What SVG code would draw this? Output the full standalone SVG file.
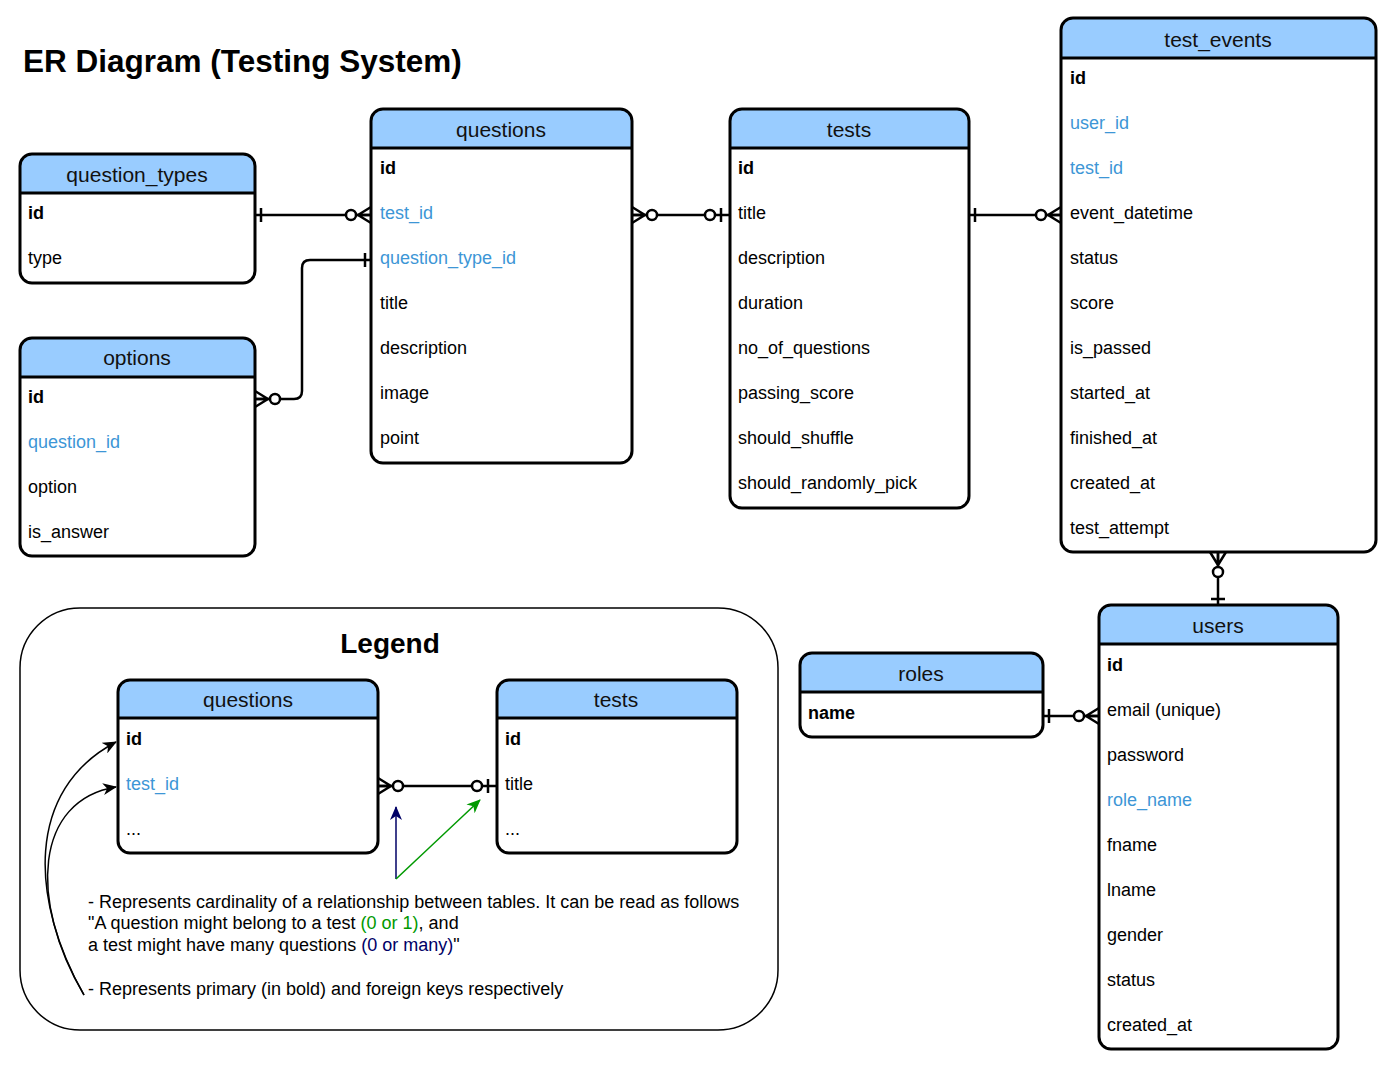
<svg xmlns="http://www.w3.org/2000/svg" xmlns:xlink="http://www.w3.org/1999/xlink" width="1392" height="1070" viewBox="0 0 1392 1070">
<style>
text{font-family:"Liberation Sans",Arial,sans-serif;fill:#000}
.title{font-size:31.5px;font-weight:bold}
.lgt{font-size:28px;font-weight:bold}
.hd{font-size:21px;fill:#111}
.r{font-size:18px}
.pk{font-size:18px;font-weight:bold}
.fk{font-size:18px;fill:#3D96D6}
.hf{fill:#99CCFF;stroke:none}
.box{fill:none;stroke:#000;stroke-width:3}
.sep{stroke:#000;stroke-width:3}
.cn{fill:none;stroke:#000;stroke-width:2.5}
.sym{fill:none;stroke:#000;stroke-width:2.5}
.sym circle{fill:#fff}
.lt{font-size:18px}
</style>
<defs>
<g id="one" class="sym"><path d="M6,-7 V7"/></g>
<g id="zo" class="sym"><path d="M9,-7 V7"/><circle cx="20" cy="0" r="5"/></g>
<g id="zm" class="sym"><path d="M0,-8 L13,0 M0,0 H13 M0,8 L13,0"/><circle cx="20" cy="0" r="5"/></g>
<marker id="ab" markerWidth="14" markerHeight="12" refX="13" refY="6" orient="auto" markerUnits="userSpaceOnUse"><path d="M0,0 L14,6 L0,12 L4,6 Z" fill="#000"/></marker>
<marker id="an" markerWidth="14" markerHeight="12" refX="13" refY="6" orient="auto" markerUnits="userSpaceOnUse"><path d="M0,0 L14,6 L0,12 L4,6 Z" fill="#000066"/></marker>
<marker id="ag" markerWidth="14" markerHeight="12" refX="13" refY="6" orient="auto" markerUnits="userSpaceOnUse"><path d="M0,0 L14,6 L0,12 L4,6 Z" fill="#009900"/></marker>
</defs>
<rect width="1392" height="1070" fill="#fff"/>
<text class="title" x="23" y="72">ER Diagram (Testing System)</text>

<g id="legend-box"><rect x="20" y="608" width="758" height="422" rx="60" fill="none" stroke="#000" stroke-width="1.5"/>
<text class="lgt" x="390" y="653" text-anchor="middle">Legend</text></g>

<g id="connectors">
<path class="cn" d="M255,215 H371"/>
<path class="cn" d="M255,399 H294 Q302,399 302,391 V268 Q302,260 310,260 H371"/>
<path class="cn" d="M632,215 H730"/>
<path class="cn" d="M969,215 H1061"/>
<path class="cn" d="M1218,552 V605"/>
<path class="cn" d="M1043,716 H1099"/>
<path class="cn" d="M378,786 H497"/>
<use xlink:href="#one" transform="translate(255,215)"/>
<use xlink:href="#zm" transform="translate(371,215) rotate(180)"/>
<use xlink:href="#zm" transform="translate(255,399)"/>
<use xlink:href="#one" transform="translate(371,260) rotate(180)"/>
<use xlink:href="#zm" transform="translate(632,215)"/>
<use xlink:href="#zo" transform="translate(730,215) rotate(180)"/>
<use xlink:href="#one" transform="translate(969,215)"/>
<use xlink:href="#zm" transform="translate(1061,215) rotate(180)"/>
<use xlink:href="#zm" transform="translate(1218,552) rotate(90)"/>
<use xlink:href="#one" transform="translate(1218,605) rotate(-90)"/>
<use xlink:href="#one" transform="translate(1043,716)"/>
<use xlink:href="#zm" transform="translate(1099,716) rotate(180)"/>
<use xlink:href="#zm" transform="translate(378,786)"/>
<use xlink:href="#zo" transform="translate(497,786) rotate(180)"/>
<path d="M396,879 V807" fill="none" stroke="#000066" stroke-width="1.5" marker-end="url(#an)"/>
<path d="M396,879 L480,800" fill="none" stroke="#009900" stroke-width="1.5" marker-end="url(#ag)"/>
<path d="M84,995 C30,900 25,790 116,742" fill="none" stroke="#000" stroke-width="1.5" marker-end="url(#ab)"/>
<path d="M84,995 C28,900 35,800 116,787" fill="none" stroke="#000" stroke-width="1.5" marker-end="url(#ab)"/>
</g>

<g id="question_types">
<path class="hf" d="M20,193 V166 Q20,154 32,154 H243 Q255,154 255,166 V193 Z"/>
<rect class="box" x="20" y="154" width="235" height="129" rx="12"/>
<line class="sep" x1="20" y1="193" x2="255" y2="193"/>
<text class="hd" x="137" y="182" text-anchor="middle">question_types</text>
<text class="pk" x="28" y="219">id</text>
<text class="r" x="28" y="264">type</text>
</g>

<g id="questions">
<path class="hf" d="M371,148 V121 Q371,109 383,109 H620 Q632,109 632,121 V148 Z"/>
<rect class="box" x="371" y="109" width="261" height="354" rx="12"/>
<line class="sep" x1="371" y1="148" x2="632" y2="148"/>
<text class="hd" x="501" y="137" text-anchor="middle">questions</text>
<text class="pk" x="380" y="174">id</text>
<text class="fk" x="380" y="219">test_id</text>
<text class="fk" x="380" y="264">question_type_id</text>
<text class="r" x="380" y="309">title</text>
<text class="r" x="380" y="354">description</text>
<text class="r" x="380" y="399">image</text>
<text class="r" x="380" y="444">point</text>
</g>

<g id="tests">
<path class="hf" d="M730,148 V121 Q730,109 742,109 H957 Q969,109 969,121 V148 Z"/>
<rect class="box" x="730" y="109" width="239" height="399" rx="12"/>
<line class="sep" x1="730" y1="148" x2="969" y2="148"/>
<text class="hd" x="849" y="137" text-anchor="middle">tests</text>
<text class="pk" x="738" y="174">id</text>
<text class="r" x="738" y="219">title</text>
<text class="r" x="738" y="264">description</text>
<text class="r" x="738" y="309">duration</text>
<text class="r" x="738" y="354">no_of_questions</text>
<text class="r" x="738" y="399">passing_score</text>
<text class="r" x="738" y="444">should_shuffle</text>
<text class="r" x="738" y="489">should_randomly_pick</text>
</g>

<g id="test_events">
<path class="hf" d="M1061,58 V30 Q1061,18 1073,18 H1364 Q1376,18 1376,30 V58 Z"/>
<rect class="box" x="1061" y="18" width="315" height="534" rx="12"/>
<line class="sep" x1="1061" y1="58" x2="1376" y2="58"/>
<text class="hd" x="1218" y="47" text-anchor="middle">test_events</text>
<text class="pk" x="1070" y="84">id</text>
<text class="fk" x="1070" y="129">user_id</text>
<text class="fk" x="1070" y="174">test_id</text>
<text class="r" x="1070" y="219">event_datetime</text>
<text class="r" x="1070" y="264">status</text>
<text class="r" x="1070" y="309">score</text>
<text class="r" x="1070" y="354">is_passed</text>
<text class="r" x="1070" y="399">started_at</text>
<text class="r" x="1070" y="444">finished_at</text>
<text class="r" x="1070" y="489">created_at</text>
<text class="r" x="1070" y="534">test_attempt</text>
</g>

<g id="options">
<path class="hf" d="M20,377 V350 Q20,338 32,338 H243 Q255,338 255,350 V377 Z"/>
<rect class="box" x="20" y="338" width="235" height="218" rx="12"/>
<line class="sep" x1="20" y1="377" x2="255" y2="377"/>
<text class="hd" x="137" y="365" text-anchor="middle">options</text>
<text class="pk" x="28" y="403">id</text>
<text class="fk" x="28" y="448">question_id</text>
<text class="r" x="28" y="493">option</text>
<text class="r" x="28" y="538">is_answer</text>
</g>

<g id="users">
<path class="hf" d="M1099,644 V617 Q1099,605 1111,605 H1326 Q1338,605 1338,617 V644 Z"/>
<rect class="box" x="1099" y="605" width="239" height="444" rx="12"/>
<line class="sep" x1="1099" y1="644" x2="1338" y2="644"/>
<text class="hd" x="1218" y="633" text-anchor="middle">users</text>
<text class="pk" x="1107" y="671">id</text>
<text class="r" x="1107" y="716">email (unique)</text>
<text class="r" x="1107" y="761">password</text>
<text class="fk" x="1107" y="806">role_name</text>
<text class="r" x="1107" y="851">fname</text>
<text class="r" x="1107" y="896">lname</text>
<text class="r" x="1107" y="941">gender</text>
<text class="r" x="1107" y="986">status</text>
<text class="r" x="1107" y="1031">created_at</text>
</g>

<g id="roles">
<path class="hf" d="M800,692 V665 Q800,653 812,653 H1031 Q1043,653 1043,665 V692 Z"/>
<rect class="box" x="800" y="653" width="243" height="84" rx="12"/>
<line class="sep" x1="800" y1="692" x2="1043" y2="692"/>
<text class="hd" x="921" y="681" text-anchor="middle">roles</text>
<text class="pk" x="808" y="719">name</text>
</g>

<g id="legend-questions">
<path class="hf" d="M118,718 V692 Q118,680 130,680 H366 Q378,680 378,692 V718 Z"/>
<rect class="box" x="118" y="680" width="260" height="173" rx="12"/>
<line class="sep" x1="118" y1="718" x2="378" y2="718"/>
<text class="hd" x="248" y="707" text-anchor="middle">questions</text>
<text class="pk" x="126" y="745">id</text>
<text class="fk" x="126" y="790">test_id</text>
<text class="r" x="126" y="835">...</text>
</g>

<g id="legend-tests">
<path class="hf" d="M497,718 V692 Q497,680 509,680 H725 Q737,680 737,692 V718 Z"/>
<rect class="box" x="497" y="680" width="240" height="173" rx="12"/>
<line class="sep" x1="497" y1="718" x2="737" y2="718"/>
<text class="hd" x="616" y="707" text-anchor="middle">tests</text>
<text class="pk" x="505" y="745">id</text>
<text class="r" x="505" y="790">title</text>
<text class="r" x="505" y="835">...</text>
</g>

<g id="legend-text">
<text class="lt" x="88" y="908">- Represents cardinality of a relationship between tables. It can be read as follows</text>
<text class="lt" x="88" y="929">"A question might belong to a test <tspan fill="#009900">(0 or 1)</tspan>, and</text>
<text class="lt" x="88" y="951">a test might have many questions <tspan fill="#000066">(0 or many)</tspan>"</text>
<text class="lt" x="88" y="995">- Represents primary (in bold) and foreign keys respectively</text>
</g>
</svg>
